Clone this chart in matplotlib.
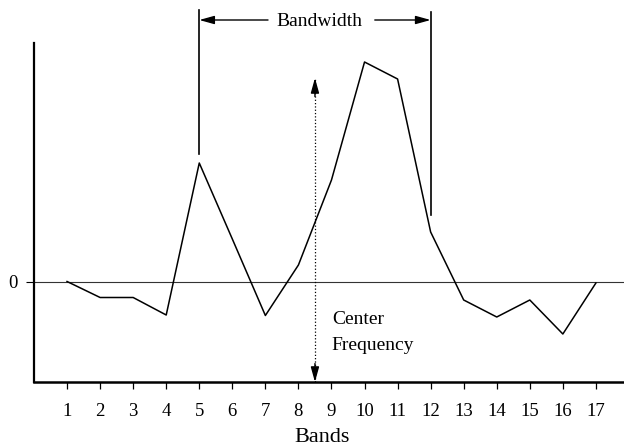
import matplotlib
matplotlib.use("Agg")
import matplotlib.pyplot as plt

# Band spectrum values (arbitrary units)
bands = list(range(1, 18))
values = [0, -1.6, -1.6, -3.35, 11.85, 4.25, -3.4, 1.65, 10.15,
          21.95, 20.25, 4.95, -1.85, -3.55, -1.85, -5.25, -0.15]
tick_labels = [str(b) for b in bands]

# Annotation anchors
bw_left, bw_right = 5, 12
center_freq = 8.5

plt.rcParams["font.family"] = ["Liberation Serif", "DejaVu Serif"]

fig = plt.figure(figsize=(6.24, 4.46), dpi=100)
ax = fig.add_axes([34 / 624, 64 / 446, 590 / 624, 382 / 446])
ax.set_xlim(0, 17.85)
ax.set_ylim(-10.05, 28.15)

# axes look: left + bottom only
ax.spines["top"].set_visible(False)
ax.spines["right"].set_visible(False)
ax.spines["left"].set_linewidth(1.6)
ax.spines["bottom"].set_linewidth(1.8)
ax.spines["left"].set_bounds(-10.05, 23.85)

ax.set_xticks(bands)
ax.set_xticklabels(tick_labels)
ax.set_yticks([0])
ax.set_yticklabels(["0"])
ax.tick_params(axis="x", direction="out", length=5, width=0.9, pad=10, labelsize=13.5)
ax.tick_params(axis="y", direction="out", length=6, width=0.8, pad=6, labelsize=13.5)

# zero line
ax.axhline(0, color="#333333", lw=0.8)

# spectrum
ax.plot(bands, values, color="black", lw=1.1)

# bandwidth markers
ax.plot([bw_left, bw_left], [12.75, 27.15], color="black", lw=1.2)
ax.plot([bw_right, bw_right], [6.65, 26.95], color="black", lw=1.2)
arrow = dict(arrowstyle="-|>,head_length=0.9,head_width=0.25", color="black", lw=1.0,
             shrinkA=0, shrinkB=0)
ax.annotate("", xy=(bw_left, 26.15), xytext=(7.08, 26.15), arrowprops=arrow)
ax.annotate("", xy=(bw_right, 26.15), xytext=(10.31, 26.15), arrowprops=arrow)
ax.text(8.62, 26.0, "Bandwidth", ha="center", va="center", fontsize=14)

# center frequency marker
ax.plot([center_freq, center_freq], [-10.05, 20.35], color="black", lw=0.9, ls=":")
ax.annotate("", xy=(center_freq, 20.35), xytext=(center_freq, 18.5), arrowprops=arrow)
ax.annotate("", xy=(center_freq, -10.05), xytext=(center_freq, -8.2), arrowprops=arrow)
ax.text(9.01, -3.85, "Center", ha="left", va="center", fontsize=14)
ax.text(9.01, -6.35, "Frequency", ha="left", va="center", fontsize=14)

ax.set_xlabel("Bands", fontsize=16, va="center")
ax.xaxis.set_label_coords((322 - 34) / 590, (382 - 438) / 382)

plt.savefig("out.png", dpi=100)
